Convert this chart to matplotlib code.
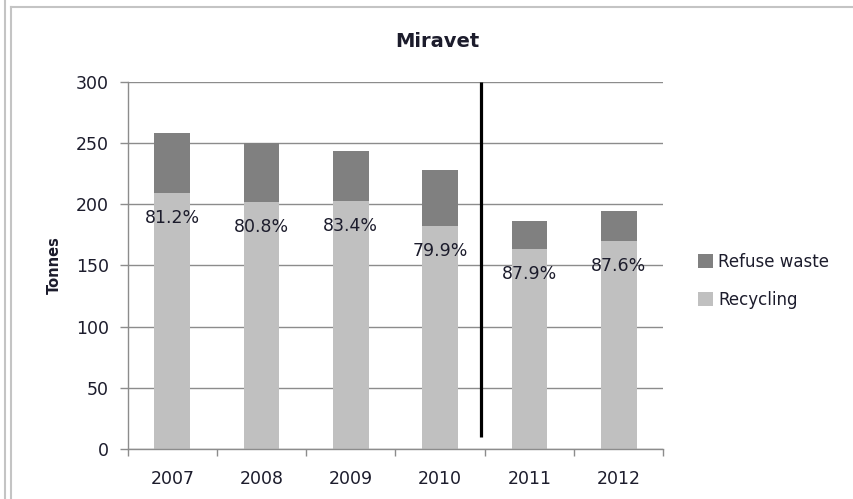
import matplotlib.pyplot as plt
from matplotlib.lines import Line2D

# values (tonnes)
years = ["2007", "2008", "2009", "2010", "2011", "2012"]
recycling = [209.5, 202.0, 202.7, 182.2, 163.5, 170.0]
refuse = [48.5, 48.0, 40.3, 45.8, 22.5, 24.0]
pct_labels = ["81.2%", "80.8%", "83.4%", "79.9%", "87.9%", "87.6%"]
split_x = 3.46          # black separator between 2010 and 2011
split_y = (10, 300)

plt.rcParams['font.family'] = ['DejaVu Sans']
txt = '#1c1c2c'
grid_c = '#8c8c8c'

fig = plt.figure(figsize=(8.54, 4.99), dpi=100)
ax = fig.add_axes([127.7 / 854, 1 - 449 / 499, (663.3 - 127.7) / 854, (449 - 81.7) / 499])

x = list(range(len(years)))
ax.bar(x, recycling, width=0.4, color='#c0c0c0', label='Recycling', zorder=2)
ax.bar(x, refuse, width=0.4, bottom=recycling, color='#808080',
       label='Refuse waste', zorder=2)

for xi, r, lab in zip(x, recycling, pct_labels):
    ax.annotate(lab, (xi, r), xytext=(0, -18), textcoords='offset points',
                ha='center', va='center', fontsize=12.5, color=txt, zorder=3)

ax.plot([split_x, split_x], split_y, color='black', lw=2.3, zorder=4,
        solid_capstyle='butt')

ax.set_xlim(-0.5, len(years) - 0.5)
ax.set_ylim(0, 300)
ax.set_yticks(range(0, 301, 50))
ax.set_xticks(x)
ax.set_xticklabels(years)
ax.set_xticks([i - 0.5 for i in range(len(years) + 1)], minor=True)
ax.tick_params(axis='x', which='major', length=0, pad=15, labelsize=12.5,
               labelcolor=txt)
ax.tick_params(axis='x', which='minor', length=5, width=1, color=grid_c,
               direction='out')
ax.tick_params(axis='y', length=5.5, width=1, color=grid_c, pad=8,
               labelsize=12.5, labelcolor=txt)

ax.yaxis.grid(True, color=grid_c, lw=1.0, zorder=0)
ax.set_axisbelow(True)
for s in ['top', 'right']:
    ax.spines[s].set_visible(False)
for s in ['left', 'bottom']:
    ax.spines[s].set_color(grid_c)
    ax.spines[s].set_linewidth(1)

ax.set_ylabel('Tonnes', fontsize=10.5, fontweight='bold', color=txt,
              labelpad=10)
ax.set_title('Miravet', fontsize=14, fontweight='bold', color=txt, pad=25,
             x=(437 - 127.7) / 535.6)

h, l = ax.get_legend_handles_labels()
fig.legend(h[::-1], l[::-1], loc='center left',
           bbox_to_anchor=(683 / 854, 1 - 281 / 499), frameon=False,
           fontsize=12, handlelength=0.9, handleheight=0.9, handletextpad=0.3,
           labelspacing=1.2, labelcolor=txt)

# chart-area frame of the original screenshot
bc = '#c4c4c4'
fig.add_artist(Line2D([5 / 854, 5 / 854], [0, 1], color=bc, lw=1.5))
fig.add_artist(Line2D([11 / 854, 11 / 854], [0, 1 - 7 / 499], color=bc, lw=1.5))
fig.add_artist(Line2D([11 / 854, 1], [1 - 7 / 499, 1 - 7 / 499], color=bc, lw=1.5))

fig.savefig('out.png', dpi=100)
